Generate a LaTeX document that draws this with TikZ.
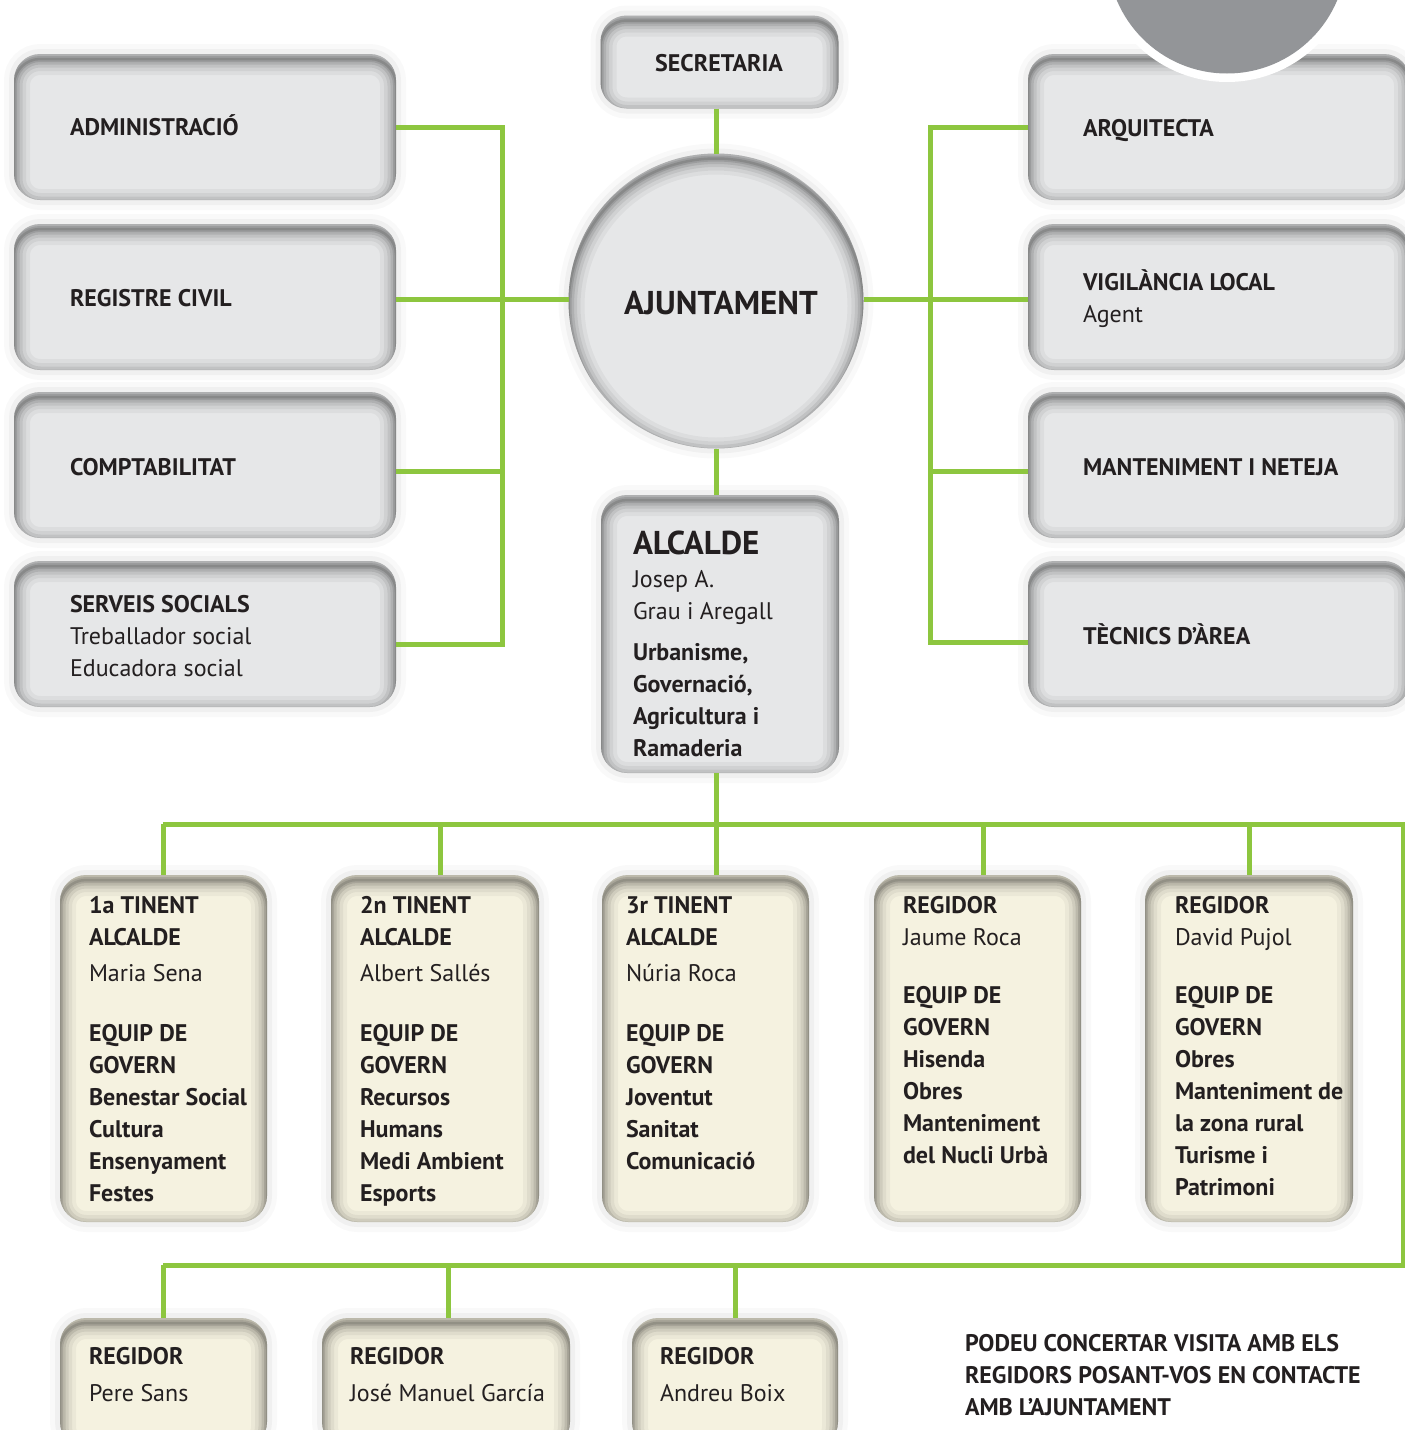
\documentclass[tikz,border=0pt]{standalone}
\usepackage{fontspec}
\setmainfont{PT Sans}
\usetikzlibrary{calc}
\definecolor{gcol}{HTML}{8DC63F}
\definecolor{boxgrey}{HTML}{E6E7E8}
\definecolor{boxcream}{HTML}{F5F2E0}
\definecolor{txt}{HTML}{231F20}
\definecolor{disc}{HTML}{939598}
\newcommand\pn[1]{{\mdseries #1}}
\newcommand\fl{\rule{0pt}{24pt}}
\begin{document}
\begin{tikzpicture}[x=1pt,y=-1pt,
  conn/.style={draw=gcol, line width=5pt},
  obox/.style={rectangle, rounded corners=26pt, inner sep=0pt, outer sep=0pt, fill=#1,
    preaction={draw=black, draw opacity=0.025, line width=20pt},
    preaction={draw=black, draw opacity=0.035, line width=10pt},
    path picture={
      \foreach \w/\o in {32/0.04,24/0.05,17/0.07,11/0.09,6/0.11,2.5/0.12}{
        \draw[line width=\w pt, black, draw opacity=\o, rounded corners=26pt]
          ([yshift=-5pt]path picture bounding box.south west) rectangle ([yshift=-5pt]path picture bounding box.north east);
      }}},
  gbox/.style={obox=boxgrey},
  cbox/.style={obox=boxcream},
  cbig/.style={circle, inner sep=0pt, outer sep=0pt, fill=boxgrey, minimum size=295pt,
    preaction={draw=black, draw opacity=0.025, line width=20pt},
    preaction={draw=black, draw opacity=0.035, line width=10pt},
    path picture={
      \foreach \w/\o in {32/0.04,24/0.05,17/0.07,11/0.09,6/0.11,2.5/0.12}{
        \draw[line width=\w pt, black, draw opacity=\o]
          ([yshift=-5pt]path picture bounding box.center) circle[radius=147.5pt];
      }}},
  lbl/.style={text=txt, inner sep=0pt, outer sep=0pt, align=left,
    font=\fontsize{24}{32}\selectfont\bfseries},
]
\useasboundingbox (0,0) rectangle (1405,1430);
\clip (0,0) rectangle (1405,1430);

% ---------- coordinates ----------
\coordinate (LB) at (502,299);
\coordinate (RB) at (930,299);
\coordinate (J) at (716,824);
\coordinate (busL) at (163,824);
\coordinate (busR) at (1403,824);
\coordinate (bus2R) at (1403,1265);
\coordinate (bus2L) at (163,1265);
\coordinate (d2) at (440,824);
\coordinate (d4) at (983,824);
\coordinate (d5) at (1249,824);
\coordinate (e2) at (448,1265);
\coordinate (e3) at (735,1265);

% ---------- boxes ----------
\node[gbox, minimum width=238pt, minimum height=93pt] (sec) at (719.5,62) {};
\node[cbig] (ajunt) at (716,301) {};
\node[gbox, minimum width=238pt, minimum height=278pt] (alc) at (720,634) {};

\node[gbox, minimum width=382pt, minimum height=146pt] (adm) at (205,127) {};
\node[gbox, minimum width=382pt, minimum height=146pt] (reg) at (205,297) {};
\node[gbox, minimum width=382pt, minimum height=146pt] (comp) at (205,465) {};
\node[gbox, minimum width=382pt, minimum height=146pt] (serv) at (205,634) {};

\node[gbox, minimum width=382pt, minimum height=146pt] (arq) at (1219,127) {};
\node[gbox, minimum width=382pt, minimum height=146pt] (vig) at (1219,297) {};
\node[gbox, minimum width=382pt, minimum height=146pt] (mant) at (1219,465) {};
\node[gbox, minimum width=382pt, minimum height=146pt] (tec) at (1219,634) {};

\node[cbox, minimum width=207pt, minimum height=347pt] (t1) at (163.5,1048.5) {};
\node[cbox, minimum width=208pt, minimum height=347pt] (t2) at (435,1048.5) {};
\node[cbox, minimum width=207pt, minimum height=347pt] (t3) at (705.5,1048.5) {};
\node[cbox, minimum width=207pt, minimum height=347pt] (t4) at (977.5,1048.5) {};
\node[cbox, minimum width=208pt, minimum height=347pt] (t5) at (1249,1048.5) {};

\node[cbox, minimum width=207pt, minimum height=130pt] (b1) at (163.5,1383) {};
\node[cbox, minimum width=248pt, minimum height=130pt] (b2) at (446,1383) {};
\node[cbox, minimum width=206pt, minimum height=130pt] (b3) at (735,1383) {};

% ---------- connectors ----------
\draw[conn] (ajunt.north |- sec.south) -- (ajunt.north);
\draw[conn] (ajunt.south) -- (ajunt.south |- alc.north);
\draw[conn] (LB -| ajunt.west) -- (LB);
\draw[conn] (adm.east) -| (LB);
\draw[conn] (reg.east |- LB) -- (LB);
\draw[conn] ([yshift=-6pt]comp.east) -| (LB);
\draw[conn] ([yshift=-10pt]serv.east) -| (LB);
\draw[conn] (RB -| ajunt.east) -- (RB);
\draw[conn] (arq.west) -| (RB);
\draw[conn] (vig.west |- RB) -- (RB);
\draw[conn] ([yshift=-6pt]mant.west) -| (RB);
\draw[conn] ([yshift=-8pt]tec.west) -| (RB);
\draw[conn] (J |- alc.south) -- (J);
\draw[conn] (busL) -- (busR) -- (bus2R) -- (bus2L);
\draw[conn] (busL) -- (busL |- t1.north);
\draw[conn] (d2) -- (d2 |- t2.north);
\draw[conn] (J) -- (J |- t3.north);
\draw[conn] (d4) -- (d4 |- t4.north);
\draw[conn] (d5) -- (d5 |- t5.north);
\draw[conn] (bus2L) -- (bus2L |- b1.north);
\draw[conn] (e2) -- (e2 |- b2.north);
\draw[conn] (e3) -- (e3 |- b3.north);

% ---------- top-right disc ----------
\fill[white] (1227,-46) circle[radius=128pt];
\fill[disc] (1227,-46) circle[radius=119.5pt];

% ---------- texts ----------
\node[lbl, anchor=base] (sect) at (719,71) {SECRETARIA};
\node[lbl, anchor=base, font=\fontsize{33}{36}\selectfont\bfseries] (ajt) at (721,314) {AJUNTAMENT};

\node[lbl, anchor=base west] (admt) at (70,135) {ADMINISTRACIÓ};
\node[lbl, anchor=base west] (regt) at (70,306) {REGISTRE CIVIL};
\node[lbl, anchor=base west] (compt) at (70,475) {COMPTABILITAT};
\node[lbl, anchor=north west] (servt) at (70,588) {\fl SERVEIS SOCIALS\\\pn{Treballador social}\\\pn{Educadora social}};

\node[lbl, anchor=base west] (arqt) at (1083,136) {ARQUITECTA};
\node[lbl, anchor=north west] (vigt) at (1083,266) {\fl VIGILÀNCIA LOCAL\\\pn{Agent}};
\node[lbl, anchor=base west] (mantt) at (1083,475) {MANTENIMENT I NETEJA};
\node[lbl, anchor=base west] (tect) at (1083,644) {TÈCNICS D’ÀREA};

\node[lbl, anchor=north west] (alct) at (633,530) {\fl{\fontsize{33}{34}\selectfont ALCALDE}\\[1pt]\pn{Josep A.}\\\pn{Grau i Aregall}\\[9pt]Urbanisme,\\Governació,\\Agricultura i\\Ramaderia};

\node[lbl, anchor=north west] (t1t) at (89,889) {\fl 1a TINENT\\ALCALDE\\[4pt]\pn{Maria Sena}\\[28pt]EQUIP DE\\GOVERN\\Benestar Social\\Cultura\\Ensenyament\\Festes};
\node[lbl, anchor=north west] (t2t) at (360,889) {\fl 2n TINENT\\ALCALDE\\[4pt]\pn{Albert Sallés}\\[28pt]EQUIP DE\\GOVERN\\Recursos\\Humans\\Medi Ambient\\Esports};
\node[lbl, anchor=north west] (t3t) at (626,889) {\fl 3r TINENT\\ALCALDE\\[4pt]\pn{Núria Roca}\\[28pt]EQUIP DE\\GOVERN\\Joventut\\Sanitat\\Comunicació};
\node[lbl, anchor=north west] (t4t) at (903,889) {\fl REGIDOR\\\pn{Jaume Roca}\\[26pt]EQUIP DE\\GOVERN\\Hisenda\\Obres\\Manteniment\\del Nucli Urbà};
\node[lbl, anchor=north west] (t5t) at (1175,889) {\fl REGIDOR\\\pn{David Pujol}\\[26pt]EQUIP DE\\GOVERN\\Obres\\Manteniment de\\la zona rural\\Turisme i\\Patrimoni};

\node[lbl, anchor=north west] (b1t) at (89,1340) {\fl REGIDOR\\[5pt]\pn{Pere Sans}};
\node[lbl, anchor=north west] (b2t) at (350,1340) {\fl REGIDOR\\[5pt]\pn{José Manuel García}};
\node[lbl, anchor=north west] (b3t) at (660,1340) {\fl REGIDOR\\[5pt]\pn{Andreu Boix}};

\node[lbl, anchor=north west] (note) at (965,1327) {\fl PODEU CONCERTAR VISITA AMB ELS\\REGIDORS POSANT-VOS EN CONTACTE\\AMB L’AJUNTAMENT};
\end{tikzpicture}
\end{document}
